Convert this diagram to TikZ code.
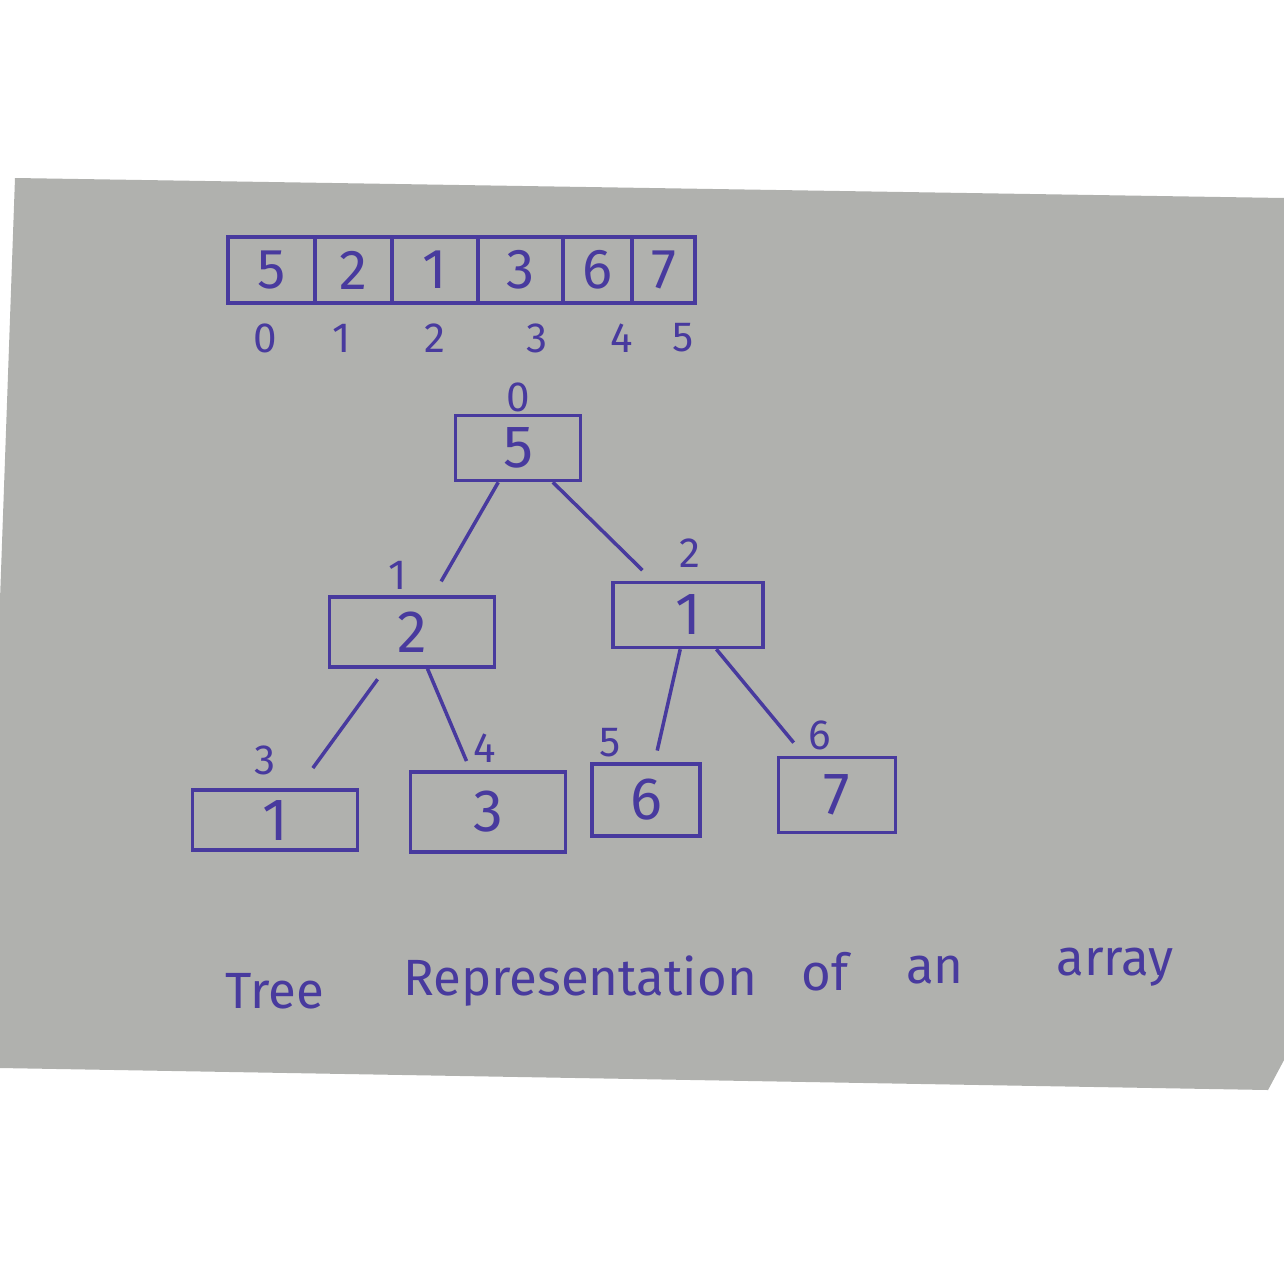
\documentclass[tikz,border=0pt]{standalone}
\usepackage{fontspec}
\setmainfont{Fira Sans}
\usepackage{tikz}

\definecolor{ink}{RGB}{72,58,158}
\definecolor{paper}{RGB}{176,177,174}

\tikzset{
  cell/.style={draw=ink, line width=1pt, minimum height=6.6mm, inner sep=0pt, text=ink, font=\fontsize{16}{16}\selectfont},
  box/.style={draw=ink, line width=1pt, inner sep=0pt, text=ink, font=\fontsize{17}{17}\selectfont},
  idx/.style={text=ink, inner sep=0pt, font=\fontsize{12}{12}\selectfont},
  edge/.style={draw=ink, line width=1pt},
  word/.style={text=ink, inner sep=0pt, anchor=base, font=\fontsize{14.5}{14.5}\selectfont}
}

\begin{document}
\begin{tikzpicture}[x=0.1mm, y=-0.1mm]
    \useasboundingbox (0,0) rectangle (1284,1269);
    \fill[white] (0,0) rectangle (1284,1269);
    \fill[paper] (15,178) -- (1284,198) -- (1284,1060) -- (1268,1090) -- (0,1068) -- (0,600) -- cycle;

    % array
    \foreach \i/\v/\l/\r in {0/5/228/315, 1/2/315/392, 2/1/392/478, 3/3/478/563, 4/6/563/632, 5/7/632/695}
        \node[cell, minimum width={(\r-\l)*0.1mm}] at ({(\l+\r)/2}, 270) (c\i) {\v};
    \foreach \i/\x in {0/265, 1/342, 2/435, 3/537, 4/622, 5/683}
        \node[idx] at (\x, 338) (ci\i) {\i};

    % tree
    \node[box, minimum width=12.5mm, minimum height=6.5mm] at (518, 448) (r0) {5};
    \node[box, minimum width=16.5mm, minimum height=7mm] at (412, 632) (n1) {2};
    \node[box, minimum width=15mm, minimum height=6.5mm] at (688, 615) (n2) {1};
    \node[box, minimum width=16.5mm, minimum height=6mm] at (275, 820) (n3) {1};
    \node[box, minimum width=15.5mm, minimum height=8mm] at (488, 812) (n4) {3};
    \node[box, minimum width=10.8mm, minimum height=7.2mm] at (646, 800) (n5) {6};
    \node[box, minimum width=11.7mm, minimum height=7.5mm] at (837, 795) (n6) {7};

    \node[idx] at (518, 397) (i0) {0};
    \node[idx] at (398, 575) (i1) {1};
    \node[idx] at (690, 553) (i2) {2};
    \node[idx] at (265, 760) (i3) {3};
    \node[idx] at (485, 748) (i4) {4};
    \node[idx] at (610, 743) (i5) {5};
    \node[idx] at (820, 735) (i6) {6};

    \draw[edge, shorten >=1.6mm] (r0) -- (n1);
    \draw[edge, shorten >=1.5mm] (r0) -- (n2);
    \draw[edge, shorten <=1.3mm, shorten >=2.5mm] (n1) -- (n3);
    \draw[edge, shorten >=1mm] (n1) -- (n4);
    \draw[edge, shorten >=1.2mm] (n2) -- (n5);
    \draw[edge, shorten >=1.7mm] (n2) -- (n6);

    % caption
    \node[word] at (275, 1008) (w1) {Tree};
    \node[word] at (580, 995) (w2) {Representation};
    \node[word] at (825, 990) (w3) {of};
    \node[word] at (935, 983) (w4) {an};
    \node[word] at (1115, 975) (w5) {array};
\end{tikzpicture}
\end{document}
